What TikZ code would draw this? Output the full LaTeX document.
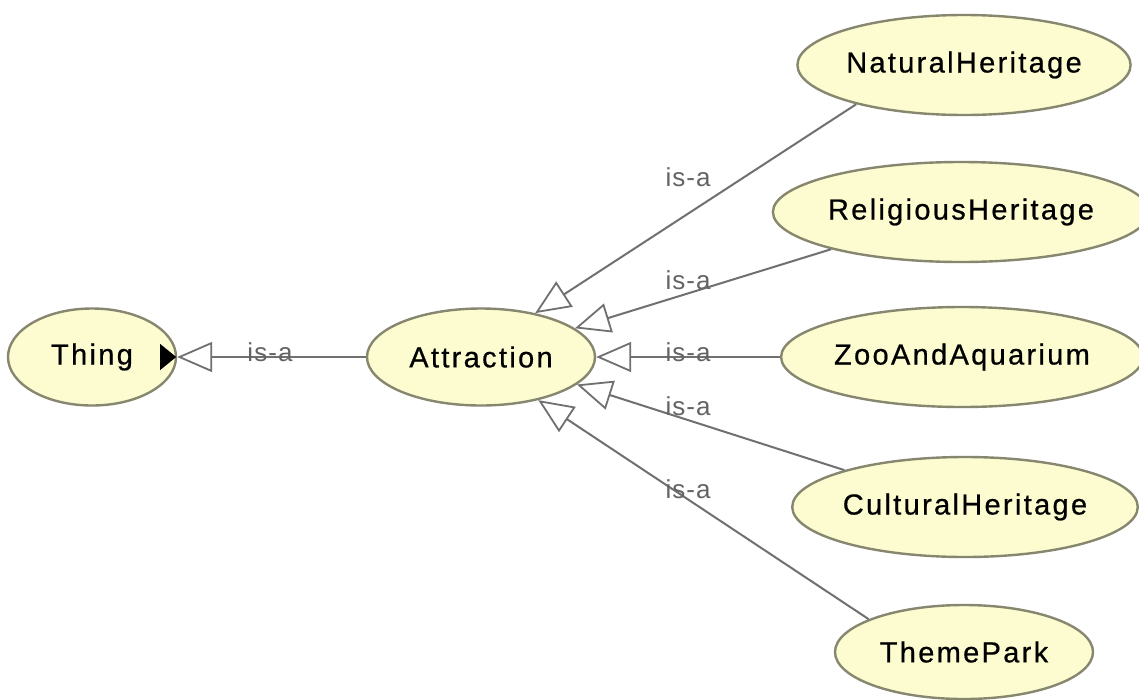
\documentclass[tikz,border=0pt]{standalone}
\usepackage{fontspec}
\setmainfont{Liberation Sans}
\newfontfamily\clsfont[LetterSpace=8,FakeBold=0.6]{Liberation Sans}
\newfontfamily\relfont[LetterSpace=4]{Liberation Sans}
\usetikzlibrary{shapes.geometric,arrows.meta}
\definecolor{clsfill}{RGB}{252,252,208}
\definecolor{clsline}{RGB}{135,135,112}
\definecolor{edgeline}{RGB}{112,112,112}
\definecolor{lblcol}{RGB}{100,100,100}
\begin{document}
\begin{tikzpicture}[x=1pt,y=-1pt,
  cls/.style={ellipse,draw=clsline,line width=2.4pt,fill=clsfill,inner sep=0pt,
    font=\clsfont\fontsize{29}{34}\selectfont},
  isa/.style={draw=edgeline,line width=2pt,
    -{Triangle[open,length=35pt,width=30pt,line width=1.8pt]}},
  lbl/.style={text=lblcol,inner sep=0pt,font=\relfont\fontsize{26}{30}\selectfont}]
\useasboundingbox (0,0) rectangle (1139,699);
\fill[white] (0,0) rectangle (1139,699);

% classes
\node[cls,minimum width=168pt,minimum height=97pt] (thing) at (92,357) {Thing\hspace{26pt}};
\node[cls,minimum width=228pt,minimum height=97pt] (attr) at (481,357) {Attraction};
\node[cls,minimum width=322pt,minimum height=100pt] (nat) at (964,65) {NaturalHeritage};
\node[cls,minimum width=352pt,minimum height=100pt] (rel) at (961,212) {ReligiousHeritage};
\node[cls,minimum width=350pt,minimum height=100pt] (zoo) at (962,357) {ZooAndAquarium};
\node[cls,minimum width=336pt,minimum height=100pt] (cul) at (965,507) {CulturalHeritage};
\node[cls,minimum width=258pt,minimum height=94pt] (park) at (964,652) {ThemePark};

% expand marker inside Thing
\fill[black] ([xshift=-17pt,yshift=-13pt]thing.east) -- ([xshift=-17pt,yshift=13pt]thing.east)
  -- ([xshift=-1pt]thing.east) -- cycle;

% subclass links
\draw[isa] (attr.west) -- (thing.east);
\draw[isa] (nat.200) -- (attr.39);
\draw[isa] (rel.196) -- (attr.17);
\draw[isa] (zoo.west) -- (attr.east);
\draw[isa] (cul.163) -- (attr.-16);
\draw[isa] (park.161) -- (attr.-37);

% link labels
\node[lbl] (l0) at (270,352) {is-a};
\node[lbl] (l1) at (688,177) {is-a};
\node[lbl] (l2) at (688,280) {is-a};
\node[lbl] (l3) at (688,352) {is-a};
\node[lbl] (l4) at (688,406) {is-a};
\node[lbl] (l5) at (688,489) {is-a};
\end{tikzpicture}
\end{document}
